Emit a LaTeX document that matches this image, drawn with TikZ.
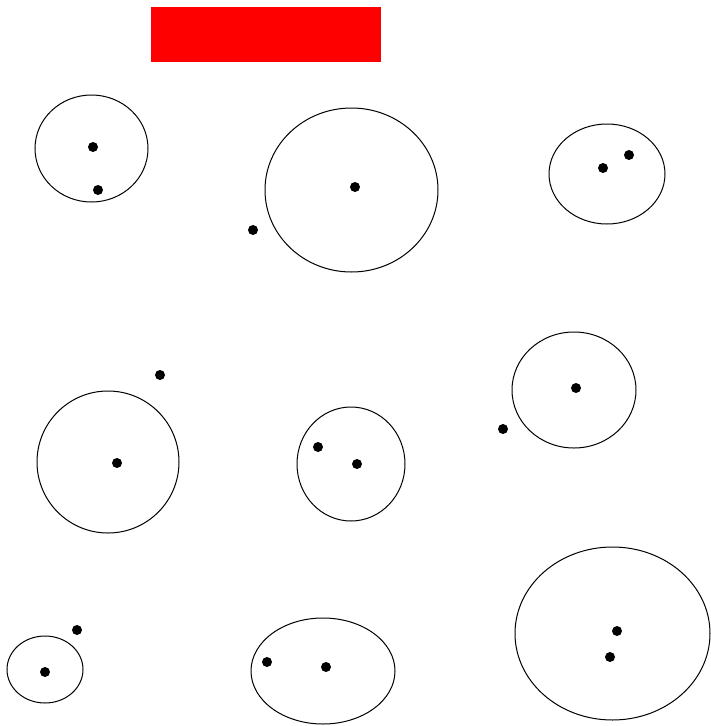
\documentclass[tikz,border=0pt]{standalone}
\tikzset{
  cl ring/.style={draw=black, line width=1pt},
  cl point/.style={fill=black},
  cl bar/.style={fill=red},
}
\newcommand{\clPointRadius}{5}

\begin{document}
\begin{tikzpicture}[x=1pt, y=-1pt]
\useasboundingbox (0,0) rectangle (710,726);
\fill [cl bar] (151,7) rectangle (381,62);

% clusters
\draw [cl ring] (91.5,148.5) ellipse [x radius=56.5, y radius=53.5];
\draw [cl ring] (351.5,190) ellipse [x radius=86.5, y radius=82];
\draw [cl ring] (607,174) ellipse [x radius=58, y radius=50];
\draw [cl ring] (108,462) ellipse [x radius=71, y radius=71];
\draw [cl ring] (351,464) ellipse [x radius=54, y radius=57];
\draw [cl ring] (574,390) ellipse [x radius=62, y radius=58];
\draw [cl ring] (45,669.5) ellipse [x radius=38, y radius=33.5];
\draw [cl ring] (323,671) ellipse [x radius=72, y radius=53];
\draw [cl ring] (612.5,633.5) ellipse [x radius=97.5, y radius=86.5];

% points
\foreach \px/\py in {93/147, 98/190, 253/230, 355/187, 603/168, 629/155,
                     160/375, 117/463, 318/447, 357/464, 576/388, 503/429,
                     77/630, 45/672, 267/662, 326/667, 617/631, 610/657}
  \fill [cl point] (\px,\py) circle [radius=\clPointRadius];
\end{tikzpicture}
\end{document}
